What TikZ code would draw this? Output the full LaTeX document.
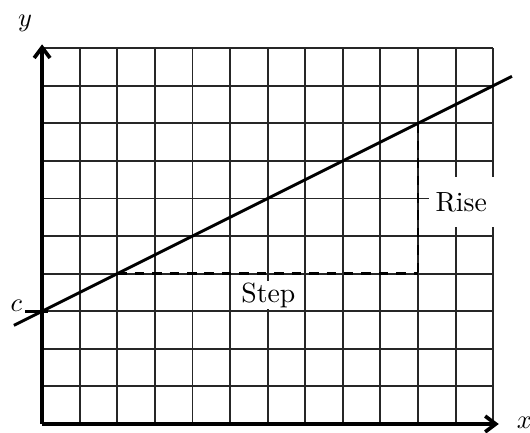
\documentclass[tikz,border=0pt]{standalone}
\usepackage{tikz}
\usetikzlibrary{arrows.meta, positioning, calc}
\tikzset{
    gridline/.style={line width=0.7pt, black!85},
    axis/.style={line width=1.6pt, -{Straight Barb[length=4pt, width=6pt, line width=1.4pt]}},
    graphline/.style={line width=1.1pt},
    guide/.style={line width=1pt, dash pattern=on 3.6pt off 3pt},
    lbl/.style={fill=white, inner sep=0.6pt, font=\fontsize{10.5}{12}\selectfont}
}
\begin{document}
\begin{tikzpicture}[x=0.5cm, y=0.5cm]
            \useasboundingbox (-1.12,-0.213) rectangle (12.98,11.28);
			\draw [gridline, step=0.5cm] (0,0) grid (12,10);

			\coordinate (origin) at (0,0);
			\coordinate (xend) at (12.15,0);
			\coordinate (yend) at (0,10.1);
			\coordinate (c) at (0,3);
			\coordinate (tickstart) at (-0.45,3);
			\coordinate (tickend) at (0.15,3);
			\coordinate (lstart) at (-0.75,2.625);
			\coordinate (lend) at (12.5,9.25);
			\coordinate (stepstart) at (2,4);
			\coordinate (corner) at (10,4);
			\coordinate (risetop) at (10,8);

			\node (step) [lbl] at (6.02,3.43) {Step};
			\node (rise) [lbl, inner xsep=2.5pt, minimum height=19pt] at (11.15,5.9) {Rise};

			\draw [axis] (origin) -- (xend);
			\draw [axis] (origin) -- (yend);
			\node (xlabel) at (12.83,0.02) {$x$};
			\node (ylabel) at (-0.45,10.67) {$y$};

			\draw [graphline] (lstart) -- (lend);
			\draw [graphline] (tickstart) -- (tickend);
			\node (clabel) [anchor=base east, inner sep=1pt] at (tickstart) {$c$};

			\draw [guide] (stepstart) -- (corner);
			\draw [guide] (risetop) -- (corner);
		\end{tikzpicture}
\end{document}
